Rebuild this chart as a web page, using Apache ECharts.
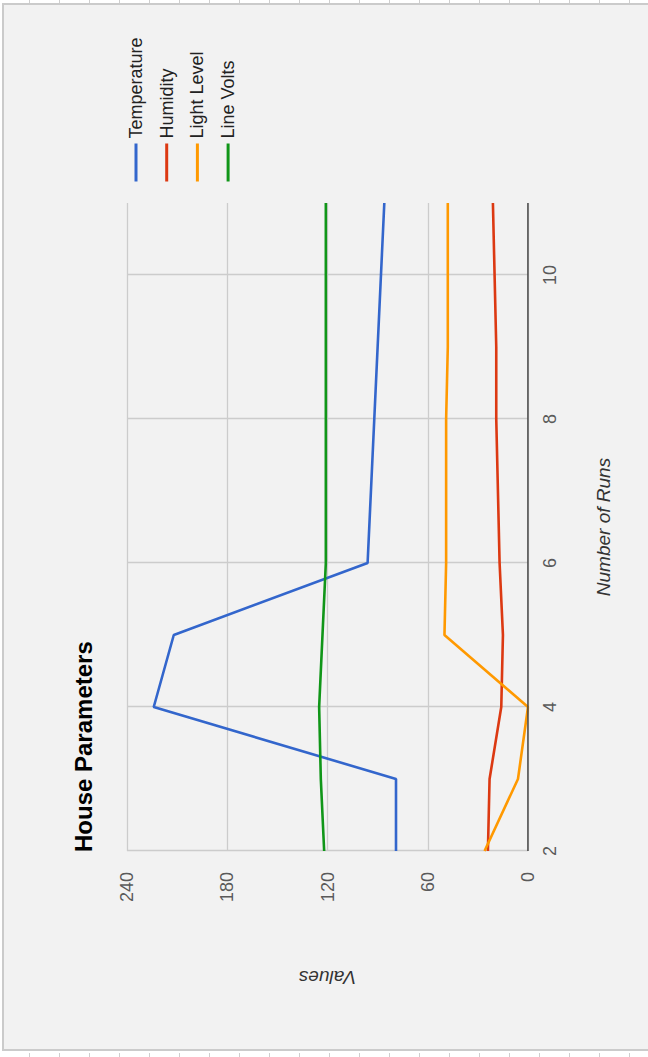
<!DOCTYPE html>
<html>
<head>
<meta charset="utf-8">
<script src="https://cdn.jsdelivr.net/npm/echarts@6/dist/echarts.min.js"></script>
<style>
  html, body { margin: 0; padding: 0; width: 648px; height: 1057px; background: #ffffff; overflow: hidden; }
  #frame {
    position: absolute; left: 2px; top: 3px; width: 646px; height: 1048px;
    background: #f2f2f2; border-left: 2px solid #cbcbcb; border-top: 2px solid #cbcbcb; border-bottom: 2px solid #cbcbcb;
    box-sizing: border-box;
  }
  .ticks { position: absolute; left: 0; width: 648px; height: 4px;
    background: repeating-linear-gradient(to right, transparent 0, transparent 29px, #cfcfcf 29px, #cfcfcf 30px, transparent 30px, transparent 25.8px);
  }
  #chart {
    position: absolute; left: 0; top: 0; width: 1057px; height: 648px;
    transform-origin: 0 0; transform: translate(0, 1057px) rotate(-90deg);
  }
</style>
</head>
<body>
<div class="ticks" style="top:0"></div>
<div class="ticks" style="top:1053px"></div>
<div id="frame"></div>
<div id="chart"></div>
<script>
// ---- data ----
var chartTitle = 'House Parameters';
var xAxisName = 'Number of Runs';
var yAxisName = 'Values';
var runs = [2, 3, 4, 5, 6, 7, 8, 9, 10, 11];
var seriesNames = ['Temperature', 'Humidity', 'Light Level', 'Line Volts'];
var temperature = [79, 79, 224, 212, 96, 94, 92, 90, 88, 86];
var humidity = [24, 23, 16, 15, 17, 18, 19, 19, 20, 21];
var lightLevel = [26, 6, 0, 50, 49, 49, 49, 48, 48, 48];
var lineVolts = [122, 124, 125, 123, 121, 121, 121, 121, 121, 121];
var seriesColors = ['#3366cc', '#dc3912', '#ff9900', '#109618'];

var values = [temperature, humidity, lightLevel, lineVolts];
var FONT = 'Arial, "Liberation Sans", sans-serif';

function pairs(arr) {
  return runs.map(function (r, i) { return [r, arr[i]]; });
}

var chart = echarts.init(document.getElementById('chart'), null, { renderer: 'svg', width: 1057, height: 648 });

chart.setOption({
  backgroundColor: 'transparent',
  animation: false,
  title: {
    text: chartTitle,
    left: 205, top: 71, padding: 0,
    textStyle: { fontFamily: FONT, fontSize: 24, fontWeight: 'bold', color: '#000' }
  },
  legend: {
    orient: 'vertical',
    left: 874, top: 127, padding: 0,
    itemWidth: 38, itemHeight: 18, itemGap: 12.7,
    data: seriesNames,
    itemStyle: { opacity: 0 },
    lineStyle: { width: 3 },
    textStyle: { fontFamily: FONT, fontSize: 18, color: '#222' }
  },
  grid: { left: 206, right: 203, top: 127, bottom: 120, containLabel: false },
  xAxis: {
    type: 'value', min: 2, max: 11, interval: 2,
    name: xAxisName, nameLocation: 'middle', nameGap: 66,
    nameTextStyle: { fontFamily: FONT, fontSize: 19, fontStyle: 'italic', color: '#333' },
    axisLine: { show: false },
    axisTick: { show: false },
    axisLabel: { margin: 13, showMaxLabel: false, fontFamily: FONT, fontSize: 18, color: '#5a5a5a' },
    splitLine: { show: true, showMaxLine: false, lineStyle: { color: '#cccccc', width: 1.3 } }
  },
  yAxis: {
    type: 'value', min: 0, max: 240, interval: 60,
    name: yAxisName, nameLocation: 'middle', nameGap: 117, nameRotate: 90,
    nameTextStyle: { fontFamily: FONT, fontSize: 19, fontStyle: 'italic', color: '#333' },
    axisLine: { show: false },
    axisTick: { show: false },
    axisLabel: { margin: 21, fontFamily: FONT, fontSize: 18, color: '#5a5a5a' },
    splitLine: { show: true, lineStyle: { color: '#cccccc', width: 1.3 } }
  },
  series: seriesNames.map(function (name, i) {
    return {
      name: name, type: 'line', data: pairs(values[i]),
      symbol: 'none', smooth: false,
      color: seriesColors[i],
      lineStyle: { color: seriesColors[i], width: 2.6 },
      z: 3
    };
  }).concat([{
    // dark baseline at value 0
    type: 'line', name: '__base', data: [[runs[0], 0], [runs[runs.length - 1], 0]],
    symbol: 'none', silent: true, legendHoverLink: false,
    lineStyle: { color: '#444', width: 1.6 }, z: 4
  }])
});
</script>
</body>
</html>
